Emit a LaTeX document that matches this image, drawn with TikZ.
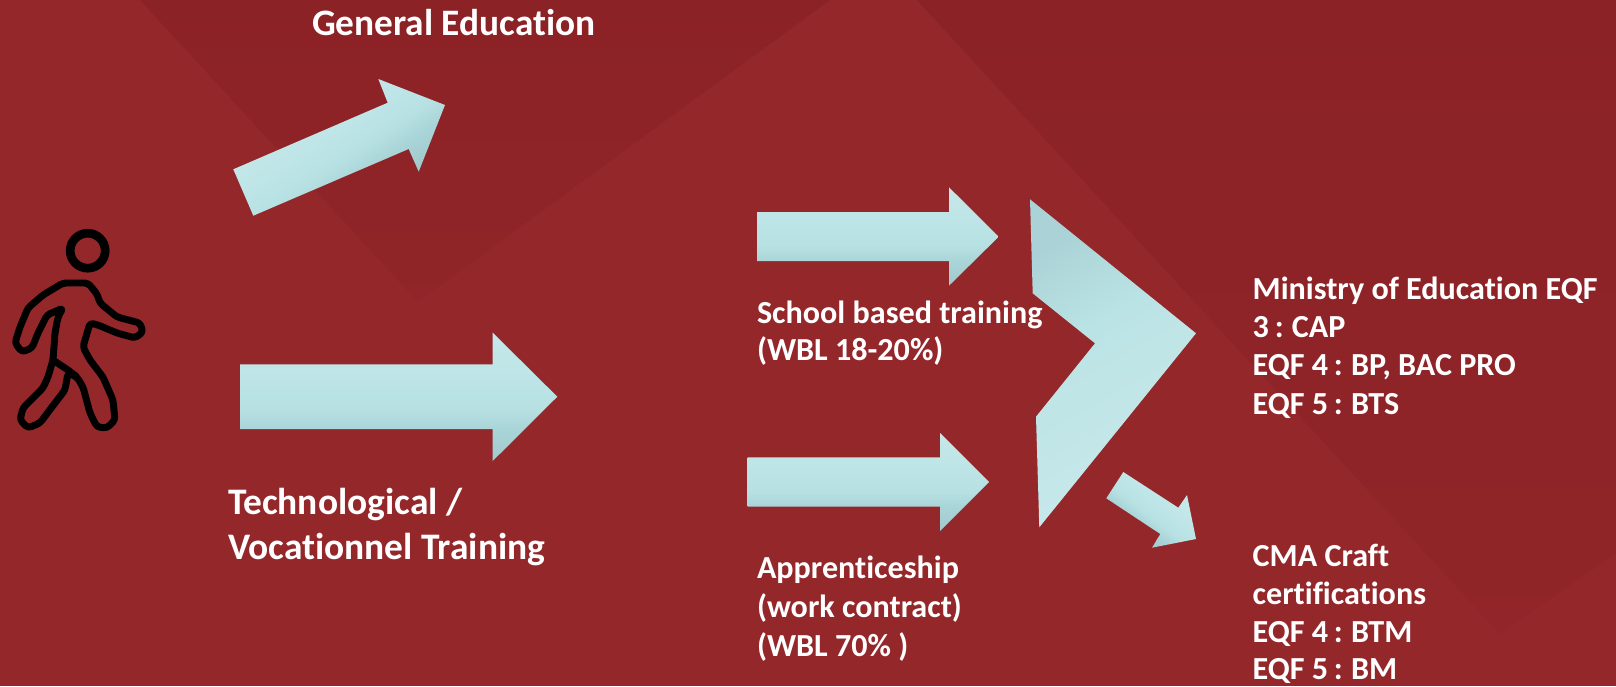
\documentclass[tikz,border=0pt]{standalone}
\usepackage{fontspec}
\setmainfont[Ligatures=NoCommon]{Carlito}
\definecolor{basered}{HTML}{94272A}
\definecolor{darkred}{HTML}{8B2226}
\definecolor{arrA}{HTML}{A0C9CD}
\definecolor{arrB}{HTML}{AAD5D8}
\definecolor{arrC}{HTML}{B6E0E2}
\definecolor{arrD}{HTML}{BAE3E5}
\definecolor{arrE}{HTML}{C6E8EA}
\definecolor{arrF}{HTML}{C0E5E7}
\definecolor{arrG}{HTML}{ABD3D7}
\pgfdeclareverticalshading{arrowshade}{100bp}{
  color(0bp)=(arrA); color(25bp)=(arrA); color(37.5bp)=(arrB); color(45bp)=(arrC);
  color(52bp)=(arrD); color(75bp)=(arrE); color(100bp)=(arrE)}
\pgfdeclareverticalshading{tiltshade}{100bp}{
  color(0bp)=(arrA); color(32bp)=(arrA); color(40bp)=(arrB); color(46bp)=(arrC);
  color(50bp)=(arrD); color(65bp)=(arrE); color(100bp)=(arrE)}
\pgfdeclareverticalshading{chevshade}{100bp}{
  color(0bp)=(arrE); color(30bp)=(arrE); color(48bp)=(arrF); color(58bp)=(arrD);
  color(75bp)=(arrG); color(100bp)=(arrG)}
\newcommand{\txtsize}[1]{\fontsize{#1}{#1}\selectfont}
\newcommand{\cln}{\kern-1.1pt{} : \kern-1.1pt{}}
\tikzset{
  lbl/.style={anchor=base west,inner sep=0pt,outer sep=0pt,text=white,align=left},
  lblsmall/.style={lbl,font=\bfseries\txtsize{24.1}},
  lblbig/.style={lbl,font=\bfseries\txtsize{28.1}},
  facet/.style={top color=darkred,bottom color=basered!65!darkred,draw=none},
  walker/.style={draw=black,line join=round,line width=5.2pt,rounded corners=2.5pt}
}
\begin{document}
\begin{tikzpicture}[x=0.75pt,y=-0.75pt]
\useasboundingbox (0,0) rectangle (1616,686);
\fill[basered] (0,0) rectangle (1616,686);
% background facets
\shade[facet] (140,0) -- (418,302) -- (830,0) -- cycle;
\shade[facet] (917,0) -- (1616,0) -- (1616,553) -- (1500,634) -- cycle;
% block arrows
\shade[shading=tiltshade,shading angle=33.5]
  (233.3,169.3) -- (387.7,102.7) -- (378.3,79) -- (445,105) -- (418.7,171.7) -- (408.7,149) -- (253.3,215.7) -- cycle;
\shade[shading=arrowshade] (240,364.3) -- (492.7,364.3) -- (492.7,332.7) -- (557.3,396.7) -- (492.7,461) -- (492.7,429) -- (240,429) -- cycle;
\shade[shading=arrowshade] (757,212) -- (949,212) -- (949,187.3) -- (998.7,236.7) -- (949,285.7) -- (949,261) -- (757,261) -- cycle;
\shade[shading=arrowshade] (747.7,457.3) -- (940,457.3) -- (940,433) -- (989,482) -- (940,531) -- (940,506.7) -- (747.7,506.7) -- cycle;
% chevron
\shade[shading=chevshade,shading angle=30]
  (1030,199.3) -- (1196,333.3) -- (1039.3,527.3) -- (1036,416.7) -- (1095,343.3) -- (1032.7,293.3) -- cycle;
% small arrow
\shade[shading=tiltshade,shading angle=-37.5]
  (1123.3,472) -- (1178.3,507.7) -- (1187,495) -- (1196,539) -- (1152,547.7) -- (1160.3,534) -- (1106.3,498.3) -- cycle;
% walking figure
\draw[black,line width=6.5pt] (87.7,250.7) circle (17.5);
\draw[walker]
  (63,283) -- (88,283) -- (97,294) -- (100,303) -- (117,317) -- (140,323) -- (143,332) -- (135,338) -- (117,333) -- (98,325) -- (90,323) -- (83,347) -- (90,360) -- (103,377) -- (113,400) -- (115,420) -- (107,428) -- (97,427) -- (90,413) -- (83,387) -- (77,377) -- (68,373) -- (65,390) -- (55,403) -- (40,423) -- (28,428) -- (20,420) -- (23,408) -- (43,388) -- (48,377) -- (53,360) -- (55,333) -- (58,317) -- (63,308) -- (47,315) -- (38,333) -- (32,348) -- (22,352) -- (15,343) -- (20,327) -- (28,308) -- (43,295) -- cycle;
\draw[walker,rounded corners=1pt] (53,360) -- (68,370) -- (77,377);
% labels
\node[lbl,font=\bfseries\txtsize{28}] (gen) at (312,35) {General Education};
\node[lblbig] (tech) at (228,514) {Technological /};
\node[lblbig] (voc) at (228,559) {Vocationnel Training};
\node[lblsmall] (sch) at (757,323.5) {School based training};
\node[lblsmall] (sch2) at (757,360.5) {(WBL 18-20\%)};
\node[lblsmall] (app) at (757,578.5) {Apprenticeship};
\node[lblsmall] (app2) at (757,617.7) {(work contract)};
\node[lblsmall] (app3) at (757,656) {(WBL 70\% )};
\node[lblsmall] (min1) at (1252.7,299) {Ministry of Education EQF};
\node[lblsmall] (min2) at (1252.7,337.5) {3\cln CAP};
\node[lblsmall] (min3) at (1252.7,375.5) {EQF 4\cln BP, BAC PRO};
\node[lblsmall] (min4) at (1252.7,414.2) {EQF 5\cln BTS};
\node[lblsmall] (cma1) at (1252.7,566) {CMA Craft};
\node[lblsmall] (cma2) at (1252.7,604) {certifications};
\node[lblsmall] (cma3) at (1252.7,642.5) {EQF 4\cln BTM};
\node[lblsmall] (cma4) at (1252.7,679.5) {EQF 5\cln BM};
\end{tikzpicture}
\end{document}
